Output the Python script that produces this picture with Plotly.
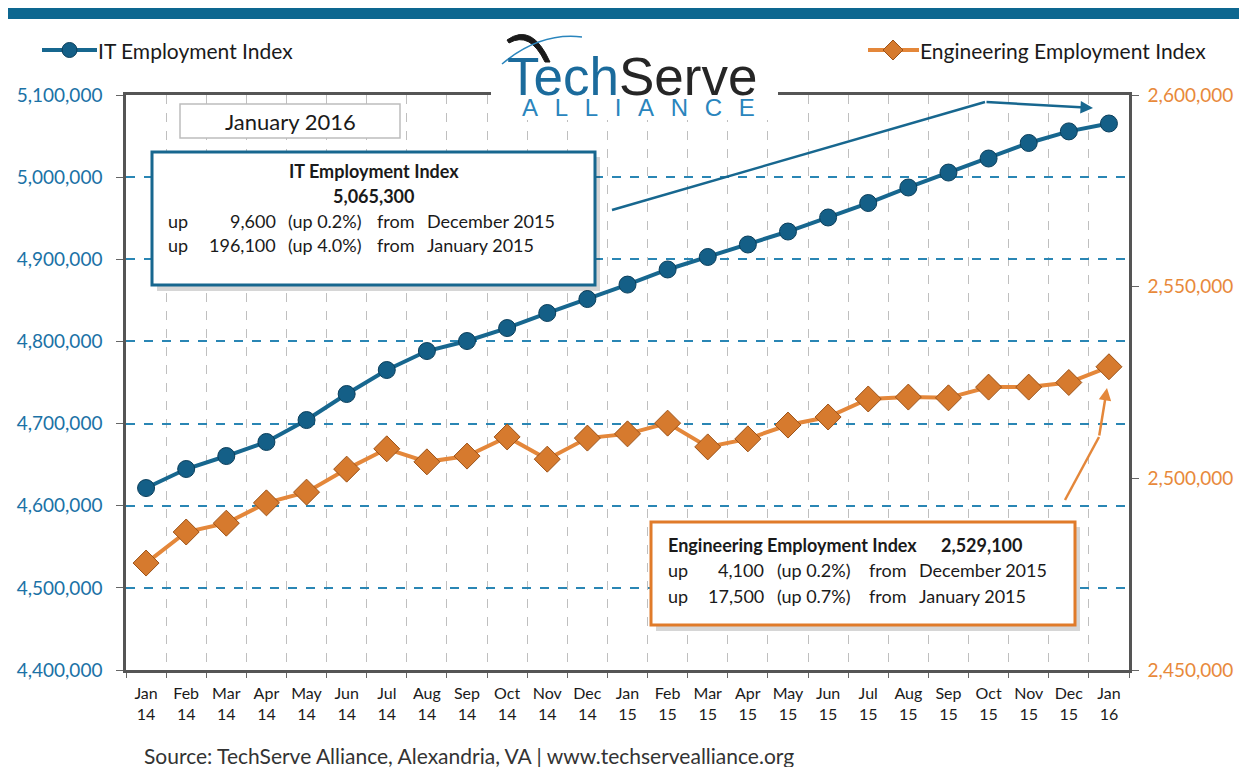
import plotly.graph_objects as go

# ---------------- data ----------------
months = ["Jan<br>14", "Feb<br>14", "Mar<br>14", "Apr<br>14", "May<br>14", "Jun<br>14",
          "Jul<br>14", "Aug<br>14", "Sep<br>14", "Oct<br>14", "Nov<br>14", "Dec<br>14",
          "Jan<br>15", "Feb<br>15", "Mar<br>15", "Apr<br>15", "May<br>15", "Jun<br>15",
          "Jul<br>15", "Aug<br>15", "Sep<br>15", "Oct<br>15", "Nov<br>15", "Dec<br>15",
          "Jan<br>16"]

it_index = [4621500, 4644700, 4660500, 4677600, 4704300, 4736000,
            4765200, 4788300, 4800500, 4816300, 4834600, 4851600,
            4869200, 4887600, 4902800, 4918000, 4933800, 4950900,
            4968500, 4987400, 5005600, 5022700, 5041600, 5055700,
            5065300]

eng_index = [2477900, 2486000, 2488300, 2493600, 2496400, 2502400,
             2507700, 2504300, 2505800, 2510800, 2505000, 2510500,
             2511600, 2514400, 2508200, 2510300, 2513900, 2516000,
             2520700, 2521200, 2521000, 2523800, 2523800, 2525000,
             2529100]

left_ticks = [4400000, 4500000, 4600000, 4700000, 4800000, 4900000, 5000000, 5100000]
right_ticks = [2450000, 2500000, 2550000, 2600000]

# ---------------- geometry helpers (page pixel -> paper) ----------------
PAGE_W, PAGE_H = 1247, 767
OFF = 8                      # default body margin of the html page
W, H = PAGE_W - OFF, PAGE_H - OFF
L, R, T, B = 126, 1129, 95, 670   # plot area in page pixels


def px(x):
    return (x - L) / (R - L)


def py(y):
    return (B - y) / (B - T)


BLUE = "#17678f"
ORANGE_LINE = "#e4873a"
FONT = "Lato, Open Sans, sans-serif"
LOGO_FONT = "Liberation Sans, Arial, sans-serif"
TXT = "#1a1a1a"

fig = go.Figure()

fig.add_trace(go.Scatter(
    x=months, y=it_index, mode="lines+markers", name="IT Employment Index",
    line=dict(color=BLUE, width=4),
    marker=dict(symbol="circle", size=17, color="#145f87",
                line=dict(color="#0b3f5c", width=1)),
    yaxis="y", showlegend=False))

fig.add_trace(go.Scatter(
    x=months, y=eng_index, mode="lines+markers", name="Engineering Employment Index",
    line=dict(color=ORANGE_LINE, width=4),
    marker=dict(symbol="diamond", size=20, color="#d67a2e",
                line=dict(color="#9c5218", width=1)),
    yaxis="y2", showlegend=False))

shapes = []
annotations = []


def text(x, y, s, size, anchor="left", color=TXT, family=FONT, yanchor="middle"):
    annotations.append(dict(xref="paper", yref="paper", x=px(x), y=py(y), xanchor=anchor,
                            yanchor=yanchor, showarrow=False, text=s, align="left",
                            font=dict(family=family, size=size, color=color)))


# top banner
shapes.append(dict(type="rect", xref="paper", yref="paper",
                   x0=px(5), x1=px(1240), y0=py(19), y1=py(7),
                   fillcolor="#0d6790", line=dict(width=0), layer="above"))

# logo white box (interrupts plot frame)
shapes.append(dict(type="rect", xref="paper", yref="paper",
                   x0=px(491), x1=px(778), y0=py(120), y1=py(24),
                   fillcolor="white", line=dict(width=0), layer="above"))
# logo swoosh
shapes.append(dict(type="path", xref="paper", yref="paper", layer="above",
                   path=f"M {px(507)},{py(40)} Q {px(532)},{py(22)} {px(550)},{py(62)} "
                        f"L {px(545)},{py(62)} Q {px(530)},{py(31)} {px(509)},{py(43)} Z",
                   fillcolor="#1a1a1a", line=dict(color="#1a1a1a", width=1)))
shapes.append(dict(type="path", xref="paper", yref="paper", layer="above",
                   path=f"M {px(502)},{py(64)} Q {px(540)},{py(32)} {px(582)},{py(37)}",
                   line=dict(color="#2a85bd", width=1.5)))
gap = "<span style='font-size:20px'>&nbsp;&nbsp;&nbsp;</span>"
lead = "<span style='font-size:27px'>&nbsp;&nbsp;</span>"
logo_text = ("<span style='font-size:53px'><span style='color:#1b6b9c'>Tech</span>"
             "<span style='color:#262626'>Serve</span></span><br>"
             + lead + "<span style='font-size:24px;color:#2a85bd'>" + gap.join("ALLIANCE") + "</span>")
text(505, 84, logo_text, 16, "left", family=LOGO_FONT)

# custom legend: IT
shapes.append(dict(type="line", xref="paper", yref="paper",
                   x0=px(42), x1=px(97), y0=py(50), y1=py(50),
                   line=dict(color=BLUE, width=4), layer="above"))
shapes.append(dict(type="circle", xref="paper", yref="paper",
                   x0=px(62), x1=px(77), y0=py(57.5), y1=py(42.5),
                   fillcolor="#145f87", line=dict(color="#0b3f5c", width=1), layer="above"))
text(96, 50, "IT Employment Index", 21)
# custom legend: Engineering
shapes.append(dict(type="line", xref="paper", yref="paper",
                   x0=px(868), x1=px(919), y0=py(50), y1=py(50),
                   line=dict(color=ORANGE_LINE, width=4), layer="above"))
shapes.append(dict(type="path", xref="paper", yref="paper", layer="above",
                   path=f"M {px(893)},{py(40)} L {px(903)},{py(50)} L {px(893)},{py(60)} L {px(883)},{py(50)} Z",
                   fillcolor="#d67a2e", line=dict(color="#9c5218", width=1)))
text(918, 50, "Engineering Employment Index", 21)

# "January 2016" box
shapes.append(dict(type="rect", xref="paper", yref="paper",
                   x0=px(180), x1=px(400), y0=py(138), y1=py(104),
                   fillcolor="white", line=dict(color="#bdbdbd", width=1.5), layer="above"))
text(290, 121, "January 2016", 22, "center")

# IT callout box
shapes.append(dict(type="rect", xref="paper", yref="paper",
                   x0=px(157), x1=px(600), y0=py(291), y1=py(157),
                   fillcolor="rgba(0,0,0,0.16)", line=dict(width=0), layer="above"))
shapes.append(dict(type="rect", xref="paper", yref="paper",
                   x0=px(152), x1=px(595), y0=py(285), y1=py(152),
                   fillcolor="white", line=dict(color=BLUE, width=3), layer="above"))
text(374, 171, "<b>IT Employment Index</b>", 18, "center")
text(374, 196, "<b>5,065,300</b>", 18, "center")
it_rows = [(221, "9,600", "(up 0.2%)", "December 2015"),
           (245, "196,100", "(up 4.0%)", "January 2015")]
for yy, num, pct, mon in it_rows:
    for xx, s, anc in [(166, "up", "left"), (278, num, "right"), (286, pct, "left"),
                       (375, "from", "left"), (425, mon, "left")]:
        text(xx, yy, s, 18, anc)

# Engineering callout box
shapes.append(dict(type="rect", xref="paper", yref="paper",
                   x0=px(656), x1=px(1080), y0=py(631), y1=py(527),
                   fillcolor="rgba(0,0,0,0.16)", line=dict(width=0), layer="above"))
shapes.append(dict(type="rect", xref="paper", yref="paper",
                   x0=px(651), x1=px(1075), y0=py(625), y1=py(522),
                   fillcolor="white", line=dict(color="#e07b2a", width=3), layer="above"))
text(666, 545, "<b>Engineering Employment Index</b>", 18)
text(1025, 545, "<b>2,529,100</b>", 18, "right")
eng_rows = [(570, "4,100", "(up 0.2%)", "December 2015"),
            (596, "17,500", "(up 0.7%)", "January 2015")]
for yy, num, pct, mon in eng_rows:
    for xx, s, anc in [(666, "up", "left"), (766, num, "right"), (775, pct, "left"),
                       (867, "from", "left"), (917, mon, "left")]:
        text(xx, yy, s, 18, anc)

# blue arrow
shapes.append(dict(type="path", xref="paper", yref="paper", layer="above",
                   path=f"M {px(612)},{py(210)} L {px(985)},{py(102)}",
                   line=dict(color=BLUE, width=2.5)))
annotations.append(dict(xref="paper", yref="paper", x=px(1093), y=py(108), ax=-108, ay=-6,
                        text="", showarrow=True, arrowhead=2, arrowsize=1, arrowwidth=2.5,
                        arrowcolor=BLUE))
# orange arrow
shapes.append(dict(type="path", xref="paper", yref="paper", layer="above",
                   path=f"M {px(1065)},{py(500)} L {px(1099)},{py(437)}",
                   line=dict(color=ORANGE_LINE, width=2.5)))
annotations.append(dict(xref="paper", yref="paper", x=px(1107), y=py(388), ax=-8, ay=49,
                        text="", showarrow=True, arrowhead=2, arrowsize=1, arrowwidth=2.5,
                        arrowcolor=ORANGE_LINE))

# source
text(142, 755, "Source: TechServe Alliance, Alexandria, VA | www.techservealliance.org", 21,
     color="#333333")

fig.update_layout(
    width=W, height=H,
    margin=dict(l=L - OFF, r=PAGE_W - R, t=T - OFF, b=PAGE_H - B, pad=0, autoexpand=False),
    paper_bgcolor="white", plot_bgcolor="white",
    shapes=shapes, annotations=annotations,
    xaxis=dict(type="category", range=[-0.5, len(months) - 0.5], tickson="boundaries",
               automargin=False, showgrid=True, gridcolor="#bfbfbf",
               griddash="dash", gridwidth=1, ticks="outside", ticklen=5, tickcolor="#666",
               showline=True, linecolor="#555555", linewidth=2.5, mirror=True,
               ticklabelstandoff=7,
               tickfont=dict(family=FONT, size=16, color=TXT),
               tickangle=0),
    yaxis=dict(range=[4400000, 5100000], tickvals=left_ticks, tickformat=",d",
               automargin=False,
               showgrid=True, gridcolor="#2a86b4", griddash="dash", gridwidth=1.5,
               ticks="outside", ticklen=7, tickcolor="#666", ticklabelstandoff=10,
               showline=True, linecolor="#555555", linewidth=2.5, zeroline=False,
               tickfont=dict(family=FONT, size=19, color="#1b72a6")),
    yaxis2=dict(range=[2450000, 2600000], tickvals=right_ticks, tickformat=",d",
                automargin=False,
                overlaying="y", side="right", showgrid=False, zeroline=False,
                ticks="outside", ticklen=7, tickcolor="#666", ticklabelstandoff=5,
                showline=True, linecolor="#555555", linewidth=2.5,
                tickfont=dict(family=FONT, size=19, color="#e8893a")),
)

fig.write_html("out.html")
